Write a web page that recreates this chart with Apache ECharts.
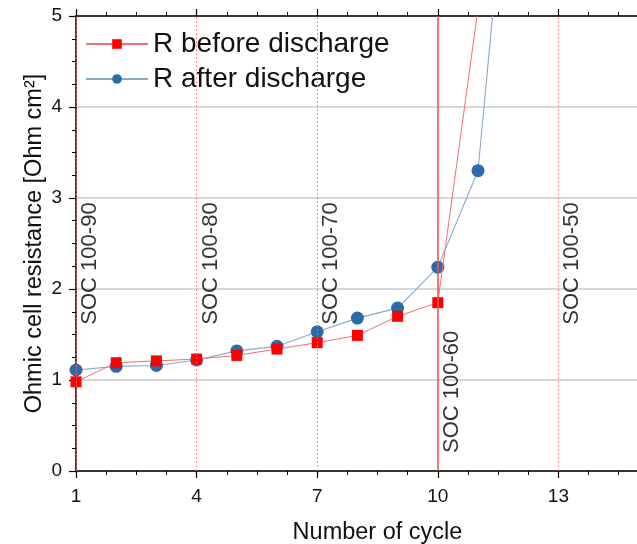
<!DOCTYPE html>
<html><head><meta charset="utf-8">
<script src="https://cdn.jsdelivr.net/npm/echarts@6/dist/echarts.min.js"></script>
<style>html,body{margin:0;padding:0;background:#fff}#c{width:637px;height:544px}</style>
</head><body><div id="c"></div><script>
// ---- data ----
const cycles = [1,2,3,4,5,6,7,8,9,10,11,12];
const rBefore = [0.98,1.19,1.21,1.23,1.27,1.34,1.41,1.49,1.70,1.85,5.08];
const rAfter  = [1.11,1.15,1.16,1.22,1.32,1.37,1.53,1.68,1.79,2.24,3.30,8.0];
const socCycles = [1,4,7,10,13];
const socNames  = ['SOC 100-90','SOC 100-80','SOC 100-70','SOC 100-60','SOC 100-50'];
const socLabelY = [2.28,2.28,2.28,0.87,2.28];
const socSolid  = [false,false,false,true,false];
const xTicks = [1,4,7,10,13,16];
const yTicks = [0,1,2,3,4,5];

const FONT = "'Liberation Sans', Arial, sans-serif";
const chart = echarts.init(document.getElementById('c'), null, {renderer:'canvas'});

const pairs = (ys) => ys.map((v,i)=>[cycles[i], v]);

const xBase = {
  type:'value', min:xTicks[0], max:xTicks[xTicks.length-1], interval:xTicks[1]-xTicks[0],
  axisLine:{show:true, onZero:false, lineStyle:{color:'#000', width:1.5}},
  axisTick:{show:true, inside:false, length:7, lineStyle:{color:'#000', width:1.2}},
  minorTick:{show:true, splitNumber:4, length:4, lineStyle:{color:'#000', width:1}},
  splitLine:{show:false}, minorSplitLine:{show:false}
};

const option = {
  animation:false,
  backgroundColor:'#fff',
  textStyle:{fontFamily:FONT},
  grid:{left:76, top:16, width:603, height:455, containLabel:false, outerBoundsMode:'none'},
  legend:{
    orient:'vertical', left:80, top:25, itemWidth:62, itemHeight:12, itemGap:7,
    textStyle:{fontSize:28, color:'#111', fontFamily:FONT},
    data:['R before discharge','R after discharge']
  },
  xAxis:[
    Object.assign({}, xBase, {
      position:'bottom',
      name:'Number of cycle', nameLocation:'middle', nameGap:50, nameMoveOverlap:false,
      nameTextStyle:{fontSize:23.5, color:'#111', fontFamily:FONT},
      axisLabel:{fontSize:19, color:'#111', margin:16, fontFamily:FONT}
    }),
    Object.assign({}, xBase, {position:'top', axisLabel:{show:false}})
  ],
  yAxis:{
    type:'value', min:yTicks[0], max:yTicks[yTicks.length-1], interval:1,
    name:'Ohmic cell resistance [Ohm cm²]', nameLocation:'middle', nameGap:29, nameMoveOverlap:false,
    nameTextStyle:{fontSize:23.5, color:'#111', fontFamily:FONT},
    axisLine:{show:true, lineStyle:{color:'#000', width:1.5}},
    axisTick:{show:true, inside:false, length:7, lineStyle:{color:'#000', width:1.2}},
    minorTick:{show:true, splitNumber:4, length:4, lineStyle:{color:'#000', width:1}},
    axisLabel:{fontSize:19, color:'#111', margin:14, fontFamily:FONT},
    splitLine:{show:true, lineStyle:{color:'#cbcbcb', width:1.5}}
  },
  series:[
    {
      type:'line', name:'_marks', data:[], z:1, silent:true,
      markLine:{
        silent:true, symbol:'none', animation:false,
        label:{show:false},
        data: socCycles.map((c,i)=>({
          xAxis:c,
          lineStyle: socSolid[i] ? {color:'#ee5555', width:1.6, type:'solid'}
                                 : {color:'#ee6f6f', width:1, type:[1.5,2.5]}
        }))
      }
    },
    {
      type:'line', name:'R before discharge', z:4,
      data:pairs(rBefore),
      symbol:'rect', symbolSize:11,
      itemStyle:{color:'#ff0000'},
      lineStyle:{color:'#f07070', width:1},
      clip:true
    },
    {
      type:'line', name:'R after discharge', z:3,
      data:pairs(rAfter),
      symbol:'circle', symbolSize:13,
      itemStyle:{color:'#2d6aa8'},
      lineStyle:{color:'#88a9cc', width:1.1},
      clip:true
    },
    {
      type:'scatter', name:'_labels', z:5, silent:true,
      symbolSize:1, itemStyle:{color:'rgba(0,0,0,0)'},
      data: socCycles.map((c,i)=>({name:socNames[i], value:[c, socLabelY[i]]})),
      label:{
        show:true, position:'inside', rotate:90, offset:[0,14],
        formatter:(p)=>p.name, fontSize:22, color:'#000', fontFamily:FONT
      }
    }
  ]
};
chart.setOption(option);
</script></body></html>
